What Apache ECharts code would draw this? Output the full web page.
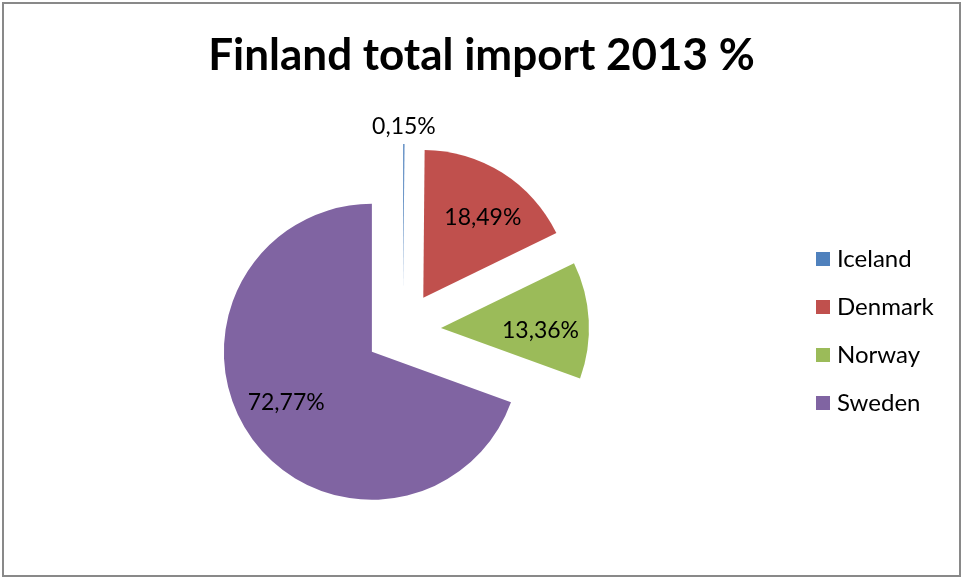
<!DOCTYPE html>
<html><head><meta charset="utf-8">
<script src="https://cdn.jsdelivr.net/npm/echarts@6/dist/echarts.min.js"></script>
<style>
html,body{margin:0;padding:0;background:#fff;}
#c{position:absolute;left:0;top:0;width:963px;height:579px;}
#frame{position:absolute;left:2px;top:2px;width:955px;height:571px;border:2px solid #898989;pointer-events:none;}
</style></head>
<body><div id="c"></div><div id="frame"></div>
<script>
const titleText = 'Finland total import 2013 %';
const categories = ['Iceland', 'Denmark', 'Norway', 'Sweden'];
const values = [0.15, 18.49, 13.36, 72.77];
const colors = ['#4F81BD', '#C0504D', '#9BBB59', '#8064A2'];

const FONT = 'Lato, "Open Sans", sans-serif';
const fmt = p => p.value.toFixed(2).replace('.', ',') + '%';

const mainData = categories.map((n, i) => ({
  name: n, value: values[i], selected: true,
  itemStyle: { color: colors[i] },
  label: { show: i === 0 }
}));
const labelData = categories.map((n, i) => ({
  name: n, value: values[i], selected: true,
  label: { show: i !== 0 }
}));

const chart = echarts.init(document.getElementById('c'), null, { renderer: 'canvas' });
chart.setOption({
  animation: false,
  color: colors,
  title: {
    text: titleText, left: 'center', top: 29,
    textStyle: { fontFamily: FONT, fontWeight: 'bold', fontSize: 44, color: '#000' }
  },
  legend: {
    orient: 'vertical', left: 811, top: 241,
    itemWidth: 14, itemHeight: 14, itemGap: 22,
    icon: 'rect',
    data: categories,
    textStyle: { fontFamily: FONT, fontSize: 24, lineHeight: 26, color: '#000', padding: [0, 0, 0, 2] }
  },
  series: [
    {
      type: 'pie', center: [403, 330], radius: [0, 148],
      startAngle: 90, clockwise: true,
      selectedMode: 'multiple', selectedOffset: 38,
      avoidLabelOverlap: false,
      itemStyle: { borderWidth: 0 },
      emphasis: { disabled: true },
      label: { position: 'outside', formatter: fmt, fontFamily: FONT, fontSize: 23, color: '#000', distanceToLabelLine: 0 },
      labelLine: { show: false, length: 17, length2: 0 },
      labelLayout: p => (p.dataIndex === 0 ? { align: 'center' } : {}),
      data: mainData
    },
    {
      type: 'pie', center: [403, 330], radius: [0, 193],
      startAngle: 86.8, clockwise: true,
      selectedMode: 'multiple', selectedOffset: 38,
      silent: true, legendHoverLink: false,
      avoidLabelOverlap: false,
      itemStyle: { color: 'rgba(0,0,0,0)', borderWidth: 0 },
      emphasis: { disabled: true },
      label: { position: 'inside', formatter: fmt, fontFamily: FONT, fontSize: 23, color: '#000' },
      labelLine: { show: false },
      data: labelData
    }
  ]
});
</script>
</body></html>
